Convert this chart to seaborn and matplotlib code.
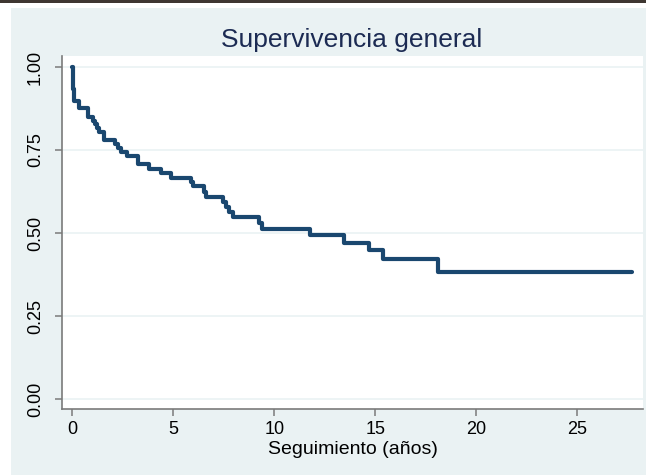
import matplotlib
matplotlib.use("Agg")
import matplotlib.pyplot as plt
from matplotlib.patches import Rectangle
import pandas as pd
import seaborn as sns

# Kaplan-Meier estimate: event times (years) and survival after each step
time_years = [0.00, 0.01, 0.02, 0.04, 0.06, 0.09, 0.32, 0.76, 1.04, 1.12, 1.22,
              1.30, 1.58, 2.13, 2.25, 2.40, 2.72, 3.27, 3.82, 4.40, 4.88, 5.88,
              5.99, 6.50, 6.62, 7.48, 7.62, 7.78, 7.95, 9.24, 9.38, 11.75,
              13.47, 14.70, 15.36, 18.10, 27.69]
survival = [1.000, 0.975, 0.955, 0.935, 0.915, 0.898, 0.876, 0.850, 0.838, 0.827,
            0.816, 0.805, 0.780, 0.768, 0.755, 0.743, 0.733, 0.707, 0.694, 0.680,
            0.667, 0.655, 0.641, 0.624, 0.609, 0.594, 0.579, 0.563, 0.547, 0.529,
            0.511, 0.493, 0.471, 0.449, 0.421, 0.382, 0.382]

x_ticks = [0, 5, 10, 15, 20, 25]
y_ticks = [0.00, 0.25, 0.50, 0.75, 1.00]
y_tick_labels = ["0.00", "0.25", "0.50", "0.75", "1.00"]
title_text = "Supervivencia general"
x_label = "Seguimiento (años)"

sns.set_theme(style="white")
plt.rcParams["font.family"] = ["Liberation Sans", "DejaVu Sans"]

W, H = 646, 475
fig = plt.figure(figsize=(W / 100, H / 100), dpi=100)
fig.patch.set_facecolor("white")

# graph region background and thin dark band along the top edge
fig.patches.append(Rectangle((11 / W, 0), 1 - 11 / W, 1 - 8 / H,
                             transform=fig.transFigure, facecolor="#EAF2F3",
                             edgecolor="none", zorder=-10))
fig.patches.append(Rectangle((0, 1 - 3 / H), 1, 3 / H,
                             transform=fig.transFigure, facecolor="#3E3631",
                             edgecolor="none", zorder=-10))

ax = fig.add_axes([62 / W, 1 - 409 / H, (643 - 62) / W, (409 - 56) / H])
ax.set_facecolor("white")

df = pd.DataFrame({"t": time_years, "s": survival})
sns.lineplot(data=df, x="t", y="s", drawstyle="steps-post", color="#1A476F",
             linewidth=3.0, ax=ax, zorder=3)

ax.set_xlim(-0.51, 28.25)
ax.set_ylim(-0.03, 1.033)
ax.set_xticks(x_ticks)
ax.set_xticklabels([str(v) for v in x_ticks])
ax.set_yticks(y_ticks)
ax.set_yticklabels(y_tick_labels, rotation=90, va="center")

for y in y_ticks:
    ax.axhline(y, color="#EAF2F3", linewidth=1.2, zorder=1)

for side in ("top", "right"):
    ax.spines[side].set_visible(False)
for side in ("left", "bottom"):
    ax.spines[side].set_color("#7A7A7A")
    ax.spines[side].set_linewidth(1.2)

ax.tick_params(axis="both", which="major", direction="out", length=5, width=1.1,
               color="#7A7A7A", labelsize=13, labelcolor="black")
ax.tick_params(axis="y", pad=8)
ax.tick_params(axis="x", pad=4)
ax.tick_params(left=True, bottom=True)

ax.set_xlabel(x_label, fontsize=14, color="black", labelpad=2)
ax.set_ylabel("")

fig.text(352 / W, 1 - 40 / H, title_text, ha="center", va="center",
         fontsize=19, color="#1C2B53")

fig.savefig("out.png", dpi=100, facecolor=fig.get_facecolor())
